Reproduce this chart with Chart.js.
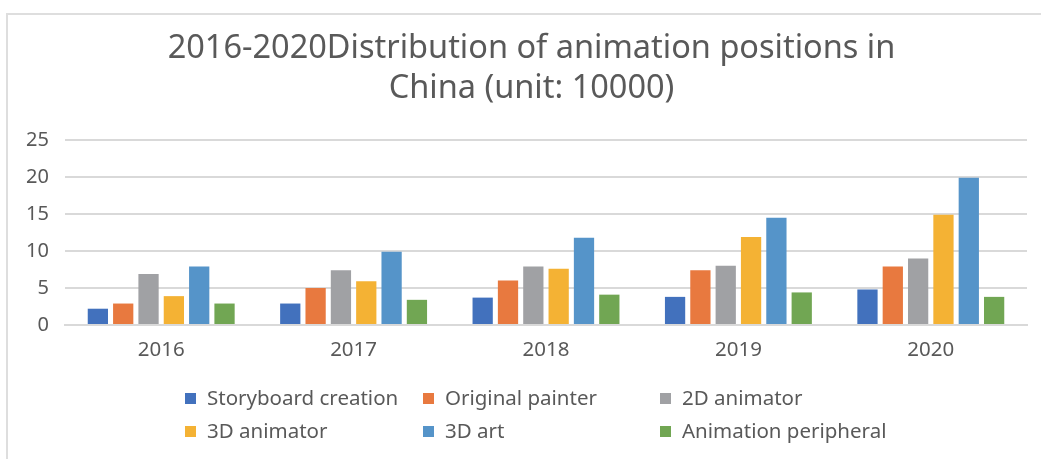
<!DOCTYPE html>
<html>
<head>
<meta charset="utf-8">
<script src="https://cdn.jsdelivr.net/npm/chart.js@4.4.1/dist/chart.umd.min.js"></script>
<style>
  html, body { margin: 0; padding: 0; background: #fff; }
  #wrap { position: relative; width: 1041px; height: 459px; }
  #frame { position: absolute; left: 6px; top: 13px; right: 0; bottom: 0;
           border-left: 2px solid #dedede; border-top: 2px solid #dedede; }
  canvas { position: absolute; left: 0; top: 0; }
</style>
</head>
<body>
<div id="wrap">
  <div id="frame"></div>
  <canvas id="jobsChart" width="1041" height="459"></canvas>
</div>
<script>
// categorias e valores (unidade: 10000)
const years = ['2016', '2017', '2018', '2019', '2020'];
const seriesNames = ['Storyboard creation', 'Original painter', '2D animator', '3D animator', '3D art', 'Animation peripheral'];
const storyboard = [2.2, 2.9, 3.7, 3.8, 4.8];
const originalPainter = [2.9, 5.0, 6.0, 7.4, 7.9];
const animator2d = [6.9, 7.4, 7.9, 8.0, 9.0];
const animator3d = [3.9, 5.9, 7.6, 11.9, 14.9];
const art3d = [7.9, 9.9, 11.8, 14.5, 19.9];
const peripheral = [2.9, 3.4, 4.1, 4.4, 3.8];
const yTicks = [0, 5, 10, 15, 20, 25];

const colors = ['#4271bd', '#e8793f', '#a0a1a4', '#f4b234', '#5594c9', '#71a653'];
const values = [storyboard, originalPainter, animator2d, animator3d, art3d, peripheral];
const textColor = '#595959';
const fontFamily = '"Noto Sans", "DejaVu Sans", sans-serif';

// legenda em grade (3 colunas), como no Excel
const gridLegend = {
    id: 'gridLegend',
    afterLayout(chart) {
        // título centrado um pouco à direita, como no original
        if (chart.titleBlock) chart.titleBlock.left += 36;
    },
    afterDraw(chart) {
        const ctx = chart.ctx;
        const colX = [185, 423, 660];
        const rowY = [399, 432];
        ctx.save();
        ctx.font = '20.5px ' + fontFamily;
        ctx.textBaseline = 'middle';
        ctx.textAlign = 'left';
        chart.data.datasets.forEach((ds, i) => {
            const x = colX[i % 3];
            const y = rowY[Math.floor(i / 3)];
            ctx.fillStyle = ds.backgroundColor;
            ctx.fillRect(x, y - 6, 11, 11);
            ctx.fillStyle = textColor;
            ctx.fillText(ds.label, x + 22, y);
        });
        ctx.restore();
    }
};

const ctx = document.getElementById('jobsChart').getContext('2d');
new Chart(ctx, {
    type: 'bar',
    data: {
        labels: years,
        datasets: seriesNames.map((name, i) => ({
            label: name,
            data: values[i],
            backgroundColor: colors[i],
            borderWidth: 0,
            barPercentage: 0.8,
            categoryPercentage: 0.79
        }))
    },
    options: {
        responsive: false,
        animation: false,
        layout: {
            padding: { left: 0, right: 14, top: 0, bottom: 84 }
        },
        plugins: {
            legend: { display: false },
            tooltip: { enabled: false },
            title: {
                display: true,
                text: ['2016-2020Distribution of animation positions in', 'China (unit: 10000)'],
                color: textColor,
                font: { family: fontFamily, size: 32.5, weight: 'normal', lineHeight: 1.23 },
                padding: { top: 29, bottom: 31 }
            }
        },
        scales: {
            x: {
                grid: { display: false, drawTicks: false },
                border: { display: true, color: '#d9d9d9', width: 2 },
                ticks: {
                    color: textColor,
                    font: { family: fontFamily, size: 20.5 },
                    padding: 13
                },
                afterFit(axis) { axis.height = 50; }
            },
            y: {
                min: 0,
                max: 25,
                afterBuildTicks(axis) { axis.ticks = yTicks.map(v => ({ value: v })); },
                grid: { color: '#d9d9d9', lineWidth: 2, drawTicks: false },
                border: { display: false },
                ticks: {
                    color: textColor,
                    font: { family: fontFamily, size: 20 },
                    padding: 16
                },
                afterFit(axis) { axis.width = 65; }
            }
        }
    },
    plugins: [gridLegend]
});
</script>
</body>
</html>
